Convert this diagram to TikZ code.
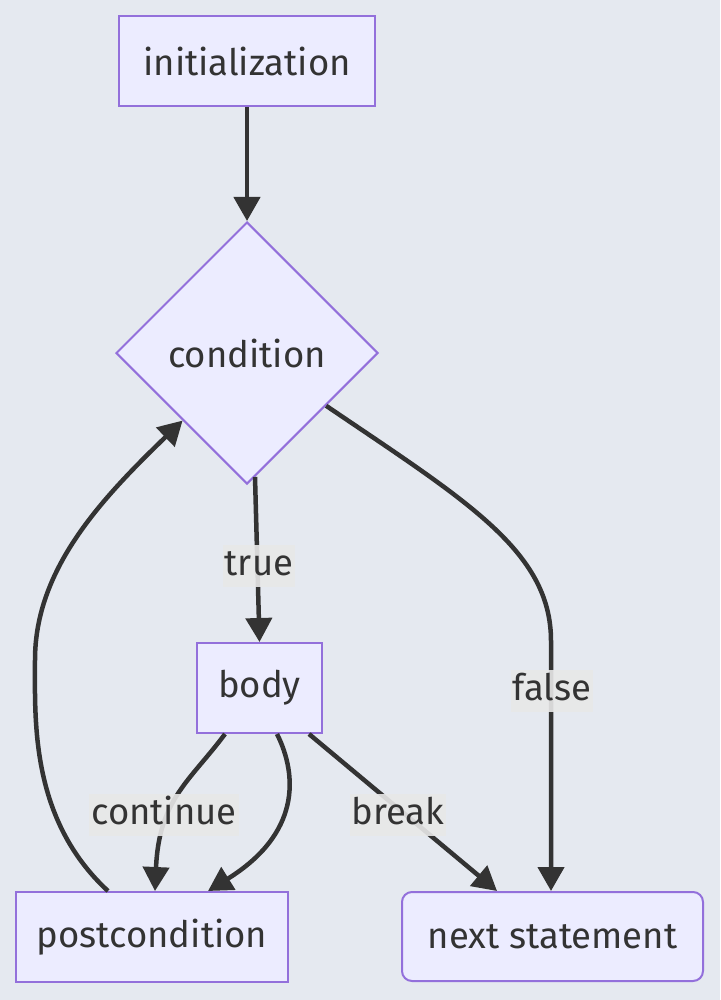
\documentclass[tikz,border=0pt]{standalone}
\usepackage{fontspec}
\setmainfont{Fira Sans}
\usetikzlibrary{shapes.geometric,arrows.meta,calc}

\definecolor{canvas}{HTML}{E5E9F0}
\definecolor{nodefill}{HTML}{ECECFF}
\definecolor{nodeline}{HTML}{9370DB}
\definecolor{ink}{HTML}{333333}
\definecolor{lblbg}{HTML}{E8E8E8}

\tikzset{
  every node/.style={font=\fontsize{36.5}{42}\selectfont, text=ink},
  procbox/.style={draw=nodeline, fill=nodefill, line width=2pt, inner sep=0pt},
  decision/.style={diamond, aspect=1, draw=nodeline, fill=nodefill, line width=2pt,
    inner sep=0pt, minimum width=262pt, minimum height=262pt},
  flow/.style={draw=ink, line width=4.5pt,
    -{Triangle[length=24pt,width=26pt]}},
  lbl/.style={fill=lblbg, fill opacity=0.9, text opacity=1, inner xsep=2pt,
    inner ysep=0pt, text height=30pt, text depth=12pt, yshift=-3pt}
}

\begin{document}
\begin{tikzpicture}[x=1pt,y=-1pt]
  % canvas
  \fill[canvas] (0,0) rectangle (720,1000);
  \useasboundingbox (0,0) rectangle (720,1000);

  % nodes
  \node[procbox, minimum width=256pt, minimum height=90pt] (init) at (247,61) {initialization};
  \node[decision] (cond) at (247,353) {condition};
  \node[procbox, minimum width=125pt, minimum height=90pt] (body) at (259.5,688) {body};
  \node[procbox, minimum width=272pt, minimum height=90pt] (post) at (152,937) {postcondition};
  \node[procbox, rounded corners=10pt, minimum width=301pt, minimum height=89pt] (next) at (552.5,936.5) {next statement};

  % connectors
  \draw[flow] (init.south) -- (cond.north);
  \draw[flow] ($(cond.south)+(8,-8)$) -- (body.north);
  \draw[flow] ($(cond.east)!0.4!(cond.south)$)
    .. controls +(140,95) and +(0,-90) .. ($(next.north)+(-1.5,-250)$)
    -- ($(next.north)+(-1.5,0)$);
  \draw[flow] ($(body.south)+(-34.5,0)$)
    .. controls +(-35,47) and +(4,-92) .. ($(post.north)+(3,0)$);
  \draw[flow] ($(body.south)+(17.5,0)$)
    .. controls +(21,42) and +(92,-57) .. ($(post.north)+(56,0)$);
  \draw[flow] ($(body.south)+(49.5,0)$) -- ($(next.north)+(-55.5,0)$);
  \draw[flow] ($(post.north)+(-44,0)$)
    .. controls +(-78,-72) and +(0,60) .. (35,660)
    .. controls +(0,-90) and ($(cond.west)!0.512!(cond.south)+(-83,80)$)
    .. ($(cond.west)!0.512!(cond.south)$);

  % edge labels
  \node[lbl] (ltrue) at (259,563) {true};
  \node[lbl] (lfalse) at (552,688) {false};
  \node[lbl] (lcont) at (164,812) {continue};
  \node[lbl] (lbreak) at (398,812) {break};
\end{tikzpicture}
\end{document}
